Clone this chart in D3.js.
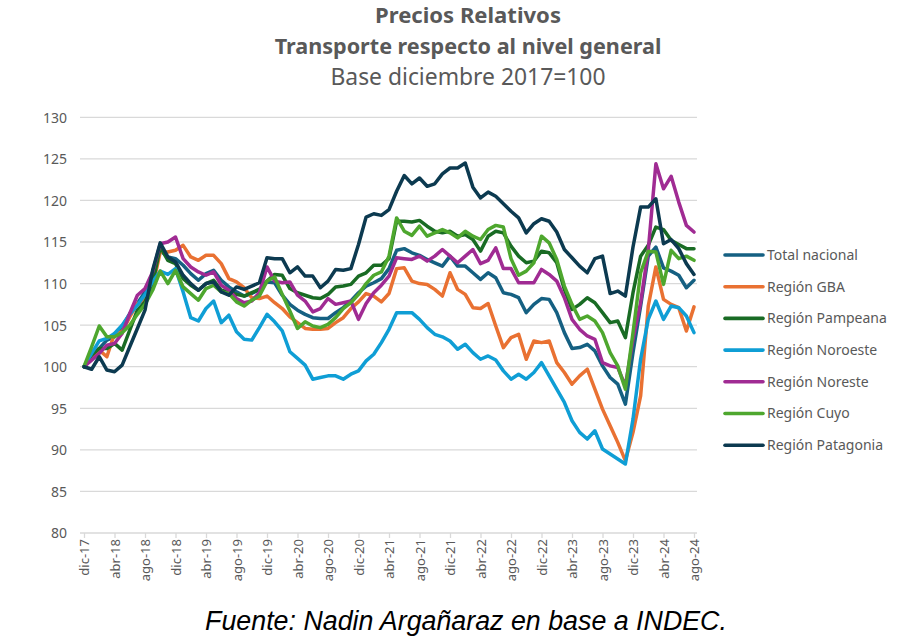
<!DOCTYPE html>
<html><head><meta charset="utf-8">
<script src="https://cdn.jsdelivr.net/npm/d3@7"></script>
<style>
html,body{margin:0;padding:0;background:#fff;}
svg{display:block;}
</style></head>
<body>
<svg id="chart" width="916" height="642"></svg>
<script>
const categories = [
"dic-17","ene-18","feb-18","mar-18","abr-18","may-18","jun-18","jul-18","ago-18","sep-18","oct-18","nov-18",
"dic-18","ene-19","feb-19","mar-19","abr-19","may-19","jun-19","jul-19","ago-19","sep-19","oct-19","nov-19",
"dic-19","ene-20","feb-20","mar-20","abr-20","may-20","jun-20","jul-20","ago-20","sep-20","oct-20","nov-20",
"dic-20","ene-21","feb-21","mar-21","abr-21","may-21","jun-21","jul-21","ago-21","sep-21","oct-21","nov-21",
"dic-21","ene-22","feb-22","mar-22","abr-22","may-22","jun-22","jul-22","ago-22","sep-22","oct-22","nov-22",
"dic-22","ene-23","feb-23","mar-23","abr-23","may-23","jun-23","jul-23","ago-23","sep-23","oct-23","nov-23",
"dic-23","ene-24","feb-24","mar-24","abr-24","may-24","jun-24","jul-24","ago-24"];

const xTickLabels = ["dic-17","abr-18","ago-18","dic-18","abr-19","ago-19","dic-19","abr-20","ago-20","dic-20","abr-21","ago-21","dic-21","abr-22","ago-22","dic-22","abr-23","ago-23","dic-23","abr-24","ago-24"];
const yTicks = [80,85,90,95,100,105,110,115,120,125,130];

const totalNacional = [100,101.2,102.2,103.2,103.6,104.8,106.4,107.6,109,111.2,114,113.2,
113,112.2,111.2,110.4,111.2,111.6,110.4,109.6,109,108.5,108.8,109.3,
110.2,110.1,108.6,107.5,106.8,106.3,105.9,105.8,105.8,106.5,107.1,107.9,
108.9,109.7,110.1,110.6,111.8,114,114.2,113.7,113.4,112.9,112.5,112.1,
113.3,112.1,112.1,111.3,110.5,111.3,110.7,108.9,108.7,108.3,106.5,107.5,
108.2,108.1,106.5,104.1,102.2,102.3,102.7,101.9,100.1,98.7,97.9,95.5,
101.7,107.3,113.3,114.4,111.9,111.5,111,109.5,110.4];

const regionGBA = [100,101,102,101.2,104,104.2,106,107.6,108,109.6,113.8,113.8,
114,114.6,113.2,112.8,113.4,113.4,112.4,110.6,110.2,109.5,108.3,108.2,
108.5,107.7,107,106,105.3,104.6,104.5,104.5,104.6,105.3,105.9,107,
107.8,108.8,108.5,107.8,108.8,111.8,111.9,110.3,110,109.9,109.3,108.5,
111.3,109.3,108.7,107.1,107,107.6,104.9,102.3,103.5,103.9,100.9,103.1,
102.9,103.1,100.5,99.3,97.9,98.9,99.7,97.3,94.9,92.9,90.9,88.7,
92.1,96.5,107.3,112,108.1,107.5,107.1,104.3,107.2];

const regionPampeana = [100,101.4,102.2,102.2,102.8,102,104.4,106.8,107.8,110,114.4,112.8,
112.4,110.6,109.8,109.2,110,110.4,109.2,109,108.7,108.5,108.9,109.3,
110.3,111.1,111,109.4,108.9,108.6,108.3,108.2,108.7,109.6,109.7,109.9,
110.9,111.3,112.2,112.2,113,117.5,117.5,117.4,117.6,116.9,116.3,116.1,
116.3,115.7,115.9,115.3,113.9,115.7,116.3,116.1,114.5,113.3,112.5,112.7,
113.9,113.7,112.5,109.3,106.9,107.5,108.3,107.7,106.5,105.3,105.5,103.5,
108.9,113.3,114.6,116.8,116.5,115.2,114.7,114.2,114.2];

const regionNoroeste = [100,101.6,103.1,103.4,104,105,106.3,107.4,108.7,110.2,111.5,111.1,
111.8,109,105.9,105.5,107,107.9,105.3,106.2,104.2,103.3,103.2,104.7,
106.3,105.4,104.3,101.8,101,100.2,98.5,98.7,98.9,98.9,98.5,99.1,
99.5,100.7,101.5,102.9,104.5,106.5,106.5,106.5,105.7,104.7,103.9,103.6,
103.1,102.1,102.7,101.7,100.9,101.3,100.8,99.5,98.5,99.1,98.5,99.3,
100.5,98.9,97.3,95.7,93.5,92.1,91.3,92.3,90.1,89.5,88.9,88.3,
93.7,100.9,105.7,107.9,105.7,107.3,107.1,106.1,104.1];

const regionNoreste = [100,100.8,101.6,102.6,102.8,104,106.4,108.6,109.4,111.4,114.8,115,
115.6,113,112,111.4,111,111.4,109.8,109.2,108.2,107.7,107.9,108.9,
112,110.3,110.1,110.2,108.6,107.9,106.6,107,108.2,107.5,107.7,107.9,
105.7,107.6,108.9,109.8,110.9,113.1,113,112.9,113.3,112.7,113.3,114.1,
113.3,112.5,113.3,114.1,112.4,112.8,114.3,111.8,111.8,110.1,110.1,110.1,
111.7,111.1,110.3,108.3,105.7,104.5,103.7,103.3,100.5,100.1,99.9,97.7,
103.3,107.7,114,124.4,121.4,122.9,119.8,117,116.2];

const regionCuyo = [100,102.4,104.9,103.6,103.6,104.1,105,106.3,107.5,109.2,111.5,110,
111.6,109.6,108.8,108,109.4,109.8,109,108.8,107.8,107.3,108,108.5,
110.3,110.8,108.7,106.7,104.6,105.4,104.9,104.7,105.1,105.9,107,107.7,
108.7,110,111,111.4,113.3,117.9,116.3,115.8,116.9,115.7,116.1,116.5,
116.1,115.5,116.3,115.7,115.3,116.5,117,116.8,113,111,111.5,112.5,
115.7,114.9,112.9,109.7,107.5,105.7,106.1,105.5,104.1,101.7,100.1,97.3,
104.1,111.3,113.9,113.8,109.9,114,113,113.3,112.8];

const regionPatagonia = [100,99.7,101.2,99.6,99.4,100.2,102.4,104.6,106.8,111.6,114.9,113.2,
112.6,111,110,109.2,110,110.2,109,108.6,109.6,109.3,109.7,110.1,
113.1,113,113,111.3,112,110.9,110.9,109.5,110.3,111.7,111.6,111.8,
114.7,118,118.4,118.2,118.9,121.1,123,122,122.7,121.7,122,123.2,
123.9,123.9,124.5,121.6,120.3,121,120.5,119.6,118.7,117.9,116.1,117.2,
117.8,117.5,116.2,114.1,113.1,112.1,111.3,113,113.3,108.8,109.1,108.5,
114.4,119.2,119.2,120.2,114.8,115.3,114.2,112.4,111.1];

const seriesNames = ["Total nacional","Región GBA","Región Pampeana","Región Noroeste","Región Noreste","Región Cuyo","Región Patagonia"];
const seriesValues = [totalNacional, regionGBA, regionPampeana, regionNoroeste, regionNoreste, regionCuyo, regionPatagonia];
const seriesColors = ["#156082","#E97132","#196B24","#0F9ED5","#A02B93","#4EA72E","#0C3A50"];

const svg = d3.select("#chart");
const font = "'Noto Sans', 'Open Sans', sans-serif";
const grey = "#595959";

svg.append("rect").attr("width",916).attr("height",642).attr("fill","#fff");

const x = d3.scalePoint().domain(categories).range([84, 694]);
const y = d3.scaleLinear().domain([80,130]).range([533, 117.3]);

// gridlines
svg.append("g").selectAll("line").data(yTicks.filter(v=>v>80)).join("line")
  .attr("x1",80).attr("x2",697)
  .attr("y1",d=>y(d)).attr("y2",d=>y(d))
  .attr("stroke","#d9d9d9").attr("stroke-width",1.3);

// y axis labels
const yAxis = d3.axisLeft(y).tickValues(yTicks).tickSize(0).tickPadding(0);
const gy = svg.append("g").attr("transform","translate(67,0)").call(yAxis);
gy.select(".domain").remove();
gy.selectAll("text").attr("font-family",font).attr("font-size",14).attr("fill",grey).attr("dy","0.35em");

// x axis
const xAxis = d3.axisBottom(x).tickValues(xTickLabels).tickSize(5).tickPadding(4);
const gx = svg.append("g").attr("transform",`translate(0,${y(80)})`).call(xAxis);
gx.select(".domain").attr("d","M80,0H697").attr("stroke","#d9d9d9").attr("stroke-width",1.3);
gx.selectAll(".tick line").attr("stroke","#d9d9d9").attr("stroke-width",1.3);
gx.selectAll("text")
  .attr("font-family",font).attr("font-size",13).attr("fill",grey)
  .attr("transform","rotate(-90)")
  .attr("text-anchor","end")
  .attr("x",-6).attr("y",0).attr("dy","0.35em");

// lines
const line = d3.line().x((d,i)=>x(categories[i])).y(d=>y(d));
svg.append("g").selectAll("path").data(seriesValues).join("path")
  .attr("d",d=>line(d))
  .attr("fill","none")
  .attr("stroke",(d,i)=>seriesColors[i])
  .attr("stroke-width",3.5)
  .attr("stroke-linejoin","round")
  .attr("stroke-linecap","round");

// legend
const leg = svg.append("g").selectAll("g").data(seriesNames).join("g")
  .attr("transform",(d,i)=>`translate(725,${255 + i*31.7})`);
leg.append("line").attr("x1",0).attr("x2",38).attr("y1",0).attr("y2",0)
  .attr("stroke",(d,i)=>seriesColors[i]).attr("stroke-width",3.6).attr("stroke-linecap","round");
leg.append("text").attr("x",42).attr("y",0).attr("dy","0.35em")
  .attr("font-family",font).attr("font-size",14).attr("fill",grey).text(d=>d);

// titles
function fitText(t, target){
  const w = t.node().getComputedTextLength();
  const fs = parseFloat(t.attr("font-size"));
  if (w>0) t.attr("font-size", (fs*target/w).toFixed(2));
}
const t1 = svg.append("text").attr("x",468).attr("y",23).attr("text-anchor","middle")
  .attr("font-family",font).attr("font-weight","bold").attr("font-size",20).attr("fill",grey)
  .text("Precios Relativos");
fitText(t1,186);
const t2 = svg.append("text").attr("x",468).attr("y",54).attr("text-anchor","middle")
  .attr("font-family",font).attr("font-weight","bold").attr("font-size",22).attr("fill",grey)
  .text("Transporte respecto al nivel general");
fitText(t2,387);
const t3 = svg.append("text").attr("x",468).attr("y",85).attr("text-anchor","middle")
  .attr("font-family",font).attr("font-size",21).attr("fill",grey)
  .text("Base diciembre 2017=100");
fitText(t3,275);

const foot = svg.append("text").attr("x",466).attr("y",630).attr("text-anchor","middle")
  .attr("font-family","'Liberation Sans', Arial, sans-serif").attr("font-style","italic")
  .attr("font-size",26).attr("fill","#000")
  .text("Fuente: Nadin Argañaraz en base a INDEC.");
fitText(foot,522);
</script>
</body></html>
